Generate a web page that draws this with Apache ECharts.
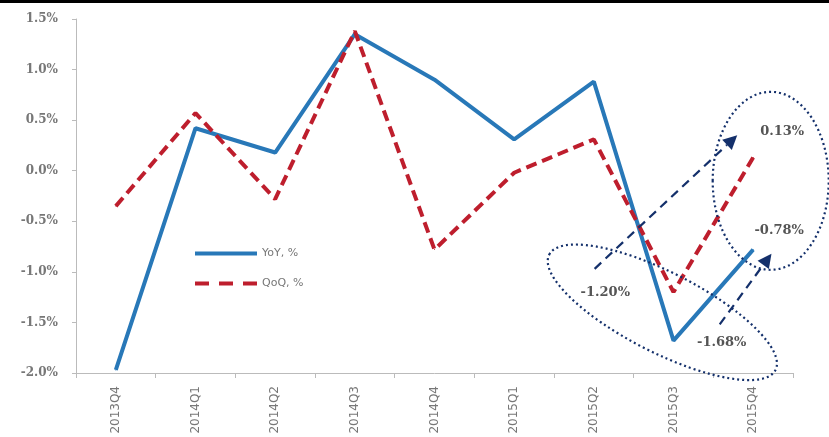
<!DOCTYPE html>
<html>
<head>
<meta charset="utf-8">
<script src="https://cdn.jsdelivr.net/npm/echarts@6/dist/echarts.min.js"></script>
<style>
html,body{margin:0;padding:0;background:#fff;}
#chart{width:829px;height:437px;}
</style>
</head>
<body>
<div id="chart"></div>
<script>
// Quarterly growth, percent
const quarters = ['2013Q4','2014Q1','2014Q2','2014Q3','2014Q4','2015Q1','2015Q2','2015Q3','2015Q4'];
const yoy = [-1.97, 0.42, 0.18, 1.35, 0.90, 0.31, 0.88, -1.68, -0.78];
const qoq = [-0.35, 0.57, -0.28, 1.38, -0.78, -0.02, 0.31, -1.20, 0.13];
const seriesNames = ['YoY, %', 'QoQ, %'];

// Callout arrows and ellipses, anchored in data space [category index, value]
const arrows = [
  { from: [6.01, -0.97], to: [7.80, 0.35] },
  { from: [7.58, -1.52], to: [8.23, -0.82] }
];
const ellipses = [
  { center: [6.86, -1.40], rx: 127, ry: 40, angle: 27 },
  { center: [8.22, -0.10], rx: 58, ry: 89, angle: 0 }
];

const SERIF = '"DejaVu Serif", "Liberation Serif", serif';
const SANS = '"DejaVu Sans", "Liberation Sans", sans-serif';
const BLUE = '#2878B8';
const RED = '#BE1E2D';
const NAVY = '#14306B';

// labels on the last two quarters
const labelStyle = { show: true, color: '#555', fontFamily: SERIF, fontSize: 13, fontWeight: 'bold' };
const pct = p => p.value.toFixed(2) + '%';
function withLabels(values, cfg) {
  return values.map((v, i) => cfg[i] ? { value: v, label: Object.assign({ formatter: pct }, labelStyle, cfg[i]) } : v);
}
const yoyData = withLabels(yoy, {
  7: { position: 'right', offset: [18, 2] },
  8: { position: 'top', offset: [26, -7] }
});
const qoqData = withLabels(qoq, {
  7: { position: 'left', offset: [-38, 1] },
  8: { position: 'top', offset: [29, -14] }
});

const chart = echarts.init(document.getElementById('chart'));
chart.setOption({
  animation: false,
  backgroundColor: '#fff',
  grid: { left: 76, right: 36, top: 19, bottom: 64 },
  legend: {
    orient: 'vertical', left: 195, top: 248, itemGap: 19, padding: 0,
    itemWidth: 62, itemHeight: 10,
    textStyle: { color: '#777', fontFamily: SANS, fontSize: 11 },
    data: [
      { name: seriesNames[0], icon: 'path://M0,0H62V4H0Z' },
      { name: seriesNames[1], icon: 'path://M0,0H14V4H0ZM24,0H38V4H24ZM48,0H62V4H48Z' }
    ]
  },
  xAxis: [
    {
      type: 'category', data: quarters, boundaryGap: true, position: 'bottom',
      axisLine: { show: false }, axisTick: { show: false },
      axisLabel: { rotate: 90, margin: 13, color: '#777', fontFamily: SANS, fontSize: 12 }
    },
    {
      type: 'category', data: quarters, boundaryGap: true, position: 'bottom',
      axisLine: { show: true, onZero: true, lineStyle: { color: '#BBB', width: 1 } },
      axisTick: { show: true, inside: false, length: 5, lineStyle: { color: '#BBB' } },
      axisLabel: { show: false }
    }
  ],
  yAxis: {
    type: 'value', min: -2, max: 1.5, interval: 0.5,
    axisLine: { show: true, lineStyle: { color: '#BBB' } },
    axisTick: { show: true, length: 4, lineStyle: { color: '#BBB' } },
    splitLine: { show: false },
    axisLabel: { margin: 18, color: '#777', fontFamily: SERIF, fontSize: 12, fontWeight: 'bold',
      formatter: v => v.toFixed(1) + '%' }
  },
  series: [
    {
      name: seriesNames[0], type: 'line', data: yoyData, xAxisIndex: 0,
      symbol: 'circle', symbolSize: 1, itemStyle: { color: BLUE },
      lineStyle: { color: BLUE, width: 4 }, z: 3
    },
    {
      name: seriesNames[1], type: 'line', data: qoqData, xAxisIndex: 0,
      symbol: 'circle', symbolSize: 1, itemStyle: { color: RED },
      lineStyle: { color: RED, width: 4, type: [11, 6] }, z: 4
    }
  ]
});

// data -> pixel with fractional category positions
const x0 = chart.convertToPixel({ xAxisIndex: 0 }, 0);
const x1 = chart.convertToPixel({ xAxisIndex: 0 }, 1);
function px(p) {
  return [x0 + p[0] * (x1 - x0), chart.convertToPixel({ yAxisIndex: 0 }, p[1])];
}

// top rule plus the callout decorations
const graphics = [
  { type: 'rect', shape: { x: 0, y: 0, width: 829, height: 3 }, style: { fill: '#000' }, z: 10 }
];
ellipses.forEach(e => {
  const c = px(e.center);
  graphics.push({
    type: 'ellipse', x: c[0], y: c[1], rotation: -e.angle * Math.PI / 180,
    shape: { cx: 0, cy: 0, rx: e.rx, ry: e.ry },
    style: { fill: 'none', stroke: NAVY, lineWidth: 2.2, lineDash: [2, 3] }, z: 10
  });
});
arrows.forEach(a => {
  const s = px(a.from), t = px(a.to);
  const ang = Math.atan2(t[1] - s[1], t[0] - s[0]);
  const head = 14, half = 7;
  const bx = t[0] - head * Math.cos(ang), by = t[1] - head * Math.sin(ang);
  graphics.push({
    type: 'line', shape: { x1: s[0], y1: s[1], x2: bx, y2: by },
    style: { stroke: NAVY, lineWidth: 2.2, lineDash: [9, 6] }, z: 10
  });
  graphics.push({
    type: 'polygon',
    shape: { points: [
      [t[0], t[1]],
      [bx + half * Math.sin(ang), by - half * Math.cos(ang)],
      [bx - half * Math.sin(ang), by + half * Math.cos(ang)]
    ] },
    style: { fill: NAVY }, z: 10
  });
});
chart.setOption({ graphic: graphics });
</script>
</body>
</html>
